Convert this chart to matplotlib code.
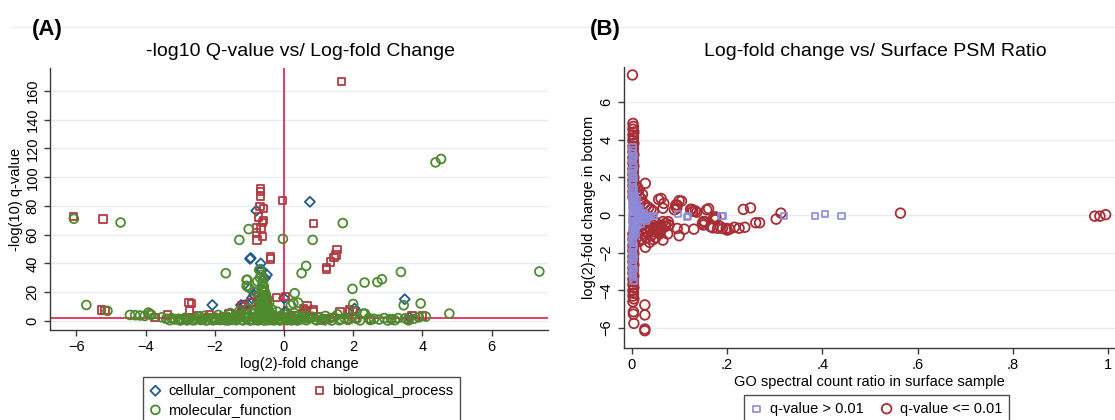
import matplotlib
matplotlib.use("Agg")
import matplotlib.pyplot as plt
from matplotlib.lines import Line2D

plt.rcParams['font.family'] = ['Liberation Sans', 'DejaVu Sans']

# ---------------- Panel A data: (log2 fold change, -log10 q) ----------------
cc_x = [0.75, -0.80, -0.98, -0.96, -0.67, -0.70, -0.49, -0.55, -2.07, 0.00, 3.49, 0.06,
        -1.24, -0.95, -1.18, -0.93, -0.86, -0.98, -1.12, -0.40, -1.50, 0.03, 2.04, 3.62,
        -0.70, -2.80, 1.20, 0.40, -0.64]
cc_y = [82.9, 76.7, 43.2, 43.8, 40.0, 35.5, 32.1, 29.7, 11.1, 15.8, 15.1, 6.3,
        11.1, 12.3, 10.7, 15.8, 18.0, 22.5, 11.0, 3.0, 1.0, 6.5, 8.6, 2.6,
        6.0, 0.8, 0.8, 1.0, 35.5]

bp_x = [1.67, -6.09, -5.23, -0.67, -0.67, -0.68, -0.05, -0.69, -0.60, -0.73, -0.60, -0.62,
        0.85, -0.80, -0.66, -0.80, -0.62, -0.78, -0.39, -0.39, 1.53, 1.50, 1.45, 1.35,
        1.23, 1.23, -5.27, -5.17, -3.73, -3.37, -3.00, -2.80, -2.73, -2.74, -2.68, -2.50,
        -2.40, -2.15, -2.00, -1.85, -1.75, -1.61, -1.50, -1.40, -1.30, -1.22, -1.22, -1.15,
        -1.05, -0.95, -0.90, -0.85, -0.80, -0.77, -0.65, -0.62, -0.60, -0.56, -0.55, -0.50,
        -0.45, -0.42, -0.35, -0.30, -0.21, -0.20, 0.05, 0.10, 0.30, 0.40, 0.54, 0.56,
        0.63, 0.67, 0.86, 0.85, 1.00, 1.20, 1.40, 1.62, 1.85, 1.90, 1.90, 2.05,
        2.00, 2.50, 3.10, 3.60, 3.70, 4.00, -3.20, -2.20, -0.70, -0.48, 0.20, 0.75]
bp_y = [166.8, 72.7, 70.9, 92.0, 90.0, 86.6, 84.0, 79.6, 78.4, 72.3, 69.7, 68.5,
        67.6, 64.6, 64.6, 61.1, 58.8, 56.4, 44.4, 43.2, 49.5, 45.8, 44.0, 41.1,
        37.0, 35.8, 7.7, 7.2, 2.5, 4.2, 1.0, 2.0, 7.4, 12.8, 12.0, 3.5,
        1.2, 4.2, 2.0, 1.0, 3.0, 4.9, 2.0, 1.2, 3.5, 10.5, 7.7, 2.5,
        5.5, 12.8, 3.0, 8.0, 1.5, 16.9, 12.3, 18.1, 22.0, 18.0, 6.0, 12.0,
        9.5, 2.5, 4.5, 1.2, 16.5, 3.0, 16.9, 2.0, 1.0, 3.5, 5.1, 8.6,
        7.0, 10.9, 7.7, 6.5, 3.0, 1.5, 2.5, 6.5, 1.0, 6.5, 7.5, 1.5,
        7.0, 1.2, 1.8, 1.2, 4.0, 3.5, 1.5, 2.2, 9.0, 14.0, 4.0, 2.5]

mf_x = [-6.07, -4.72, -1.02, -1.29, -0.03, 0.83, 1.70, 4.38, 4.54, 0.64, 0.51, -1.68,
        3.38, 7.38, 2.83, 2.70, -1.06, -0.69, -5.71, -5.10, 1.98, 2.33, 0.31, 2.00,
        3.46, 3.95, 4.78, 2.34, 0.20, 0.27, 0.41, 2.29,
        -4.45, -4.30, -4.16, -4.02, -3.92, -3.87, -3.83, -3.53, -3.40, -3.25, -3.15, -3.05,
        -2.95, -2.85, -2.75, -2.65, -2.55, -2.45, -2.35, -2.30, -2.20, -2.10, -2.00, -1.95,
        -1.90, -1.80, -1.75, -1.70, -1.65, -1.60, -1.55, -1.50, -1.45, -1.40, -1.35, -1.30,
        -1.25, -1.20, -1.15, -1.10, -1.05, -1.00, -0.95, -0.90, -0.85, -0.80, -0.78, -0.75,
        -0.72, -0.70, -0.68, -0.66, -0.64, -0.62, -0.60, -0.58, -0.56, -0.55, -0.54, -0.52,
        -0.50, -0.48, -0.47, -0.45, -0.43, -0.40, -0.38, -0.35, -0.32, -0.30, -0.25, -0.20,
        -0.15, -0.10, -0.05, 0.00, 0.05, 0.10, 0.15, 0.20, 0.25, 0.30, 0.35, 0.40,
        0.45, 0.50, 0.55, 0.60, 0.70, 0.80, 0.90, 1.00, 1.10, 1.20, 1.30, 1.45,
        1.55, 1.65, 1.75, 1.85, 1.95, 2.10, 2.45, 2.60, 2.75, 2.90, 3.10, 3.30,
        3.50, 3.75, 3.90, 4.10,
        -0.71, -0.66, -0.69, -0.60, -0.62, -0.58, -0.65, -0.61, -0.84, -0.55, -0.70, -0.50,
        -0.63, -0.57, -0.52, -0.77, -1.08, -1.08, -1.03,
        -3.30, -3.00, -2.80, -2.60, -2.40, -2.25, -2.05, -1.85, -1.62, -1.38, -1.18, -0.98,
        -0.88, -0.74, -0.57, -0.46, -0.36, -0.28, -0.12, 0.08, 0.22, 0.38, 0.65, 0.95,
        1.15, 1.38, 1.60, 2.20, 2.50, 3.00, 3.20, 3.60, -0.67, -0.59, -0.53, -0.64, -0.49]
mf_y = [71.1, 68.5, 63.9, 56.4, 57.1, 56.4, 68.1, 110.3, 112.7, 38.3, 33.2, 33.2,
        34.1, 34.4, 29.0, 27.0, 28.6, 35.4, 11.1, 7.0, 22.3, 26.7, 19.3, 11.8,
        10.9, 12.2, 5.1, 5.1, 11.0, 12.3, 12.7, 5.1,
        4.2, 4.0, 3.8, 3.5, 5.8, 4.9, 4.2, 2.5, 1.5, 2.0, 1.0, 1.5,
        0.8, 2.2, 1.2, 0.6, 1.8, 2.8, 1.0, 3.5, 0.6, 1.5, 2.5, 0.8,
        4.2, 1.2, 2.0, 0.5, 3.0, 1.5, 5.5, 0.9, 2.4, 4.0, 1.3, 6.5,
        2.8, 0.7, 4.8, 1.8, 8.5, 3.2, 1.0, 5.8, 2.2, 10.5, 0.6, 4.5,
        7.5, 1.5, 12.5, 3.0, 9.0, 5.5, 15.0, 2.0, 7.0, 11.5, 4.0, 18.0,
        1.0, 6.0, 9.5, 3.0, 13.0, 5.0, 2.0, 8.0, 1.2, 4.0, 2.5, 6.5,
        1.5, 3.5, 0.8, 2.5, 4.5, 1.2, 3.0, 0.7, 2.0, 5.5, 1.5, 3.5,
        0.9, 2.5, 1.3, 4.0, 1.8, 3.0, 1.0, 2.2, 0.8, 3.5, 1.5, 2.5,
        4.5, 1.2, 2.0, 0.7, 3.0, 1.5, 2.0, 1.5, 1.0, 2.0, 1.2, 2.0,
        1.8, 1.5, 2.5, 3.0,
        35.5, 32.0, 30.0, 28.6, 26.0, 24.0, 22.0, 21.4, 20.4, 20.0, 18.0, 16.0,
        14.0, 12.0, 10.0, 27.6, 28.6, 24.4, 23.5,
        0.5, 0.3, 0.5, 0.4, 0.6, 0.3, 0.4, 0.6, 0.3, 0.5, 0.4, 0.3,
        0.6, 0.4, 0.3, 0.5, 0.6, 0.4, 0.3, 0.5, 0.4, 0.3, 0.5, 0.4,
        0.6, 0.3, 0.5, 0.4, 0.6, 0.3, 0.5, 0.4, 3.5, 6.5, 8.0, 9.5, 5.0]

# ---------------- Panel B data: (surface ratio, log2 fold change) ----------------
ns_x = [0.001, 0.002, 0.001, 0.003, 0.002, 0.001, 0.002, 0.003, 0.001, 0.002, 0.001, 0.003,
        0.002, 0.001, 0.002, 0.003, 0.001, 0.002, 0.001, 0.003, 0.002, 0.001, 0.002, 0.003,
        0.001, 0.002, 0.001, 0.003, 0.002, 0.001, 0.002, 0.003, 0.001, 0.002, 0.001, 0.003,
        0.002, 0.001, 0.002, 0.003, 0.001, 0.002, 0.001, 0.003, 0.002, 0.001, 0.002, 0.003,
        0.006, 0.010, 0.015, 0.020, 0.025, 0.030, 0.008, 0.012, 0.018, 0.035, 0.040, 0.005,
        0.005, 0.009, 0.014, 0.022, 0.028, 0.007, 0.011, 0.016, 0.006, 0.009, 0.013, 0.024,
        0.032, 0.007, 0.010, 0.005, 0.008,
        0.016, 0.019, 0.047, 0.097, 0.115, 0.118, 0.188, 0.190, 0.320, 0.384, 0.405, 0.440]
ns_y = [3.6, 3.45, 3.3, 3.15, 3.0, 2.85, 2.7, 2.55, 2.4, 2.25, 2.1, 1.95,
        1.8, 1.65, 1.5, 1.35, 1.2, 1.05, 0.9, 0.75, 0.6, 0.45, 0.3, 0.15,
        0.0, -0.15, -0.3, -0.45, -0.6, -0.75, -0.9, -1.05, -1.2, -1.35, -1.5, -1.65,
        -1.8, -1.95, -2.1, -2.25, -2.4, -2.55, -2.7, -2.85, -3.0, -3.15, -3.3, -3.5,
        0.2, 0.1, -0.1, 0.05, -0.2, -0.3, -0.4, 0.35, -0.45, -0.1, -0.05, 0.5,
        -0.6, 0.25, -0.25, -0.15, 0.0, 0.65, 0.45, 0.3, -0.8, -0.65, -0.5, 0.1,
        -0.2, 1.0, 0.8, -1.1, -1.0,
        0.05, 0.0, -0.05, 0.05, -0.09, -0.07, -0.04, -0.07, -0.07, -0.07, 0.04, -0.05]

sig_x = [0.001,
         0.002, 0.003, 0.002, 0.004, 0.002, 0.003, 0.002, 0.004, 0.002, 0.003, 0.002, 0.004,
         0.002, 0.003, 0.002, 0.004, 0.002, 0.003, 0.002, 0.004, 0.002, 0.003, 0.002, 0.004,
         0.002, 0.003, 0.002, 0.004,
         0.008, 0.012, 0.010, 0.015, 0.020, 0.018, 0.025, 0.028, 0.030, 0.035, 0.014, 0.022,
         0.006, 0.040, 0.045,
         0.005, 0.008, 0.010, 0.012, 0.015, 0.018, 0.020, 0.022, 0.025, 0.028, 0.030, 0.033,
         0.035, 0.038, 0.040, 0.042, 0.045, 0.048, 0.050, 0.052, 0.055, 0.058, 0.060, 0.062,
         0.010, 0.015, 0.020, 0.006, 0.030, 0.045, 0.008, 0.012, 0.020, 0.028, 0.065, 0.070,
         0.075, 0.065, 0.099, 0.028, 0.037, 0.054, 0.060, 0.050,
         0.002, 0.003, 0.002, 0.004, 0.002, 0.003, 0.002, 0.004, 0.002, 0.003, 0.002, 0.004,
         0.002, 0.003, 0.002, 0.004, 0.002, 0.003, 0.002, 0.004, 0.002, 0.003, 0.002, 0.004,
         0.002,
         0.027, 0.003, 0.003, 0.027, 0.004, 0.027, 0.027,
         0.056, 0.061, 0.067, 0.065, 0.095, 0.104, 0.126, 0.128, 0.136, 0.161, 0.176, 0.176,
         0.234, 0.249, 0.268, 0.303, 0.313, 0.564, 0.972, 0.983, 0.995,
         0.095, 0.110, 0.130, 0.150, 0.198, 0.205, 0.215, 0.225, 0.237, 0.200, 0.180, 0.170,
         0.150, 0.153, 0.094, 0.076, 0.070, 0.092, 0.099, 0.089, 0.157, 0.172, 0.175,
         0.071, 0.078, 0.148, 0.165, 0.185, 0.190, 0.260, 0.123, 0.133]
sig_y = [7.43,
         4.86, 4.70, 4.55, 4.40, 4.25, 4.10, 3.95, 3.80, 3.65, 3.50, 3.35, 3.20,
         3.05, 2.90, 2.75, 2.60, 2.45, 2.30, 2.15, 2.00, 1.85, 1.70, 1.55, 1.40,
         1.25, 1.10, 0.95, 0.80,
         1.60, 1.45, 1.20, 1.00, 0.85, 0.70, 0.60, 1.68, 0.50, 0.40, 1.30, 1.10,
         0.90, 0.30, 0.20,
         -0.30, -0.50, -0.70, -0.90, -0.40, -0.60, -0.80, -1.00, -0.50, -0.70, -0.90, -0.40,
         -0.60, -0.80, -1.10, -0.50, -0.70, -0.90, -0.40, -0.60, -0.80, -1.00, -0.55, -0.75,
         -1.20, -1.40, -1.30, -1.50, -1.20, -1.30, -0.20, -0.30, -0.25, -0.30, -0.35, -0.60,
         -1.00, -1.33, -1.10, -1.71, -1.45, -0.70, -0.90, -1.20,
         -1.00, -1.15, -1.30, -1.45, -1.60, -1.75, -1.90, -2.05, -2.20, -2.35, -2.50, -2.65,
         -2.80, -2.95, -3.10, -3.25, -3.40, -3.55, -3.70, -3.85, -4.00, -4.15, -4.30, -4.45,
         -4.60,
         -4.77, -5.13, -5.26, -5.30, -5.75, -6.05, -6.14,
         0.83, 0.88, 0.62, 0.36, 0.53, 0.74, 0.30, 0.20, 0.15, 0.34, -0.10, -0.20,
         0.30, 0.38, -0.41, -0.22, 0.10, 0.10, -0.06, -0.06, 0.02,
         -0.71, -0.75, -0.75, -0.53, -0.71, -0.75, -0.65, -0.70, -0.65, -0.80, -0.70, -0.68,
         -0.35, -0.35, 0.35, -0.35, -0.60, 0.53, 0.76, 0.28, 0.28, -0.12, -0.25,
         -0.44, -0.53, -0.44, -0.62, -0.60, -0.72, -0.41, 0.30, 0.22]

# ---------------- styles ----------------
C_CC = '#1f5a8c'
C_BP = '#b23a40'
C_MF = '#4e8a2e'
C_NS = '#8e8ad8'
C_SIG = '#a82c34'
C_REF = '#e8194d'
C_GRID = '#e4edf0'
C_AX = '#3a3a3a'

fig = plt.figure(figsize=(11.15, 4.2), dpi=100)

# faint frame line at top
fig.add_artist(Line2D([0.01, 1.0], [1 - 27 / 420, 1 - 27 / 420], color='#ececec', lw=0.8))


def style_axes(ax):
    for s in ('top', 'right'):
        ax.spines[s].set_visible(False)
    for s in ('left', 'bottom'):
        ax.spines[s].set_color(C_AX)
        ax.spines[s].set_linewidth(1.0)
    ax.tick_params(axis='both', direction='out', length=4, width=1.0, color=C_AX,
                   labelsize=10.5, labelcolor='black')
    ax.tick_params(axis='y', labelrotation=90)
    ax.grid(axis='y', color=C_GRID, lw=1.0, zorder=0)
    ax.set_axisbelow(True)


# ---------------- Panel A ----------------
axA = fig.add_axes([50 / 1115, 1 - 330 / 420, 498 / 1115, (330 - 68) / 420])
axA.axhline(2, color=C_REF, lw=1.2, zorder=1)
axA.axvline(0, color=C_REF, lw=1.2, zorder=1)
hA1 = axA.scatter(cc_x, cc_y, marker='D', s=26, facecolors='none', edgecolors=C_CC, linewidths=1.3, zorder=3)
hA2 = axA.scatter(bp_x, bp_y, marker='s', s=28, facecolors='none', edgecolors=C_BP, linewidths=1.3, zorder=4)
hA3 = axA.scatter(mf_x, mf_y, marker='o', s=40, facecolors='none', edgecolors=C_MF, linewidths=1.3, zorder=5)
axA.set_xlim(-6.76, 7.63)
axA.set_ylim(-6.3, 176)
axA.set_xticks([-6, -4, -2, 0, 2, 4, 6])
axA.set_yticks([0, 20, 40, 60, 80, 100, 120, 140, 160])
style_axes(axA)
for lab in axA.get_yticklabels():
    lab.set_va('center')
axA.set_xlabel('log(2)-fold change', fontsize=10.5, labelpad=2)
axA.set_ylabel('-log(10) q-value', fontsize=10.5, labelpad=2)
fig.text(300 / 1115, 1 - 52 / 420, '-log10 Q-value vs/ Log-fold Change', ha='center', va='center', fontsize=14)
fig.text(32 / 1115, 1 - 30 / 420, '(A)', ha='left', va='center', fontsize=16, fontweight='bold')

legA = fig.legend([hA1, hA3, hA2], ['cellular_component', 'molecular_function', 'biological_process'],
                  loc='upper left', bbox_to_anchor=(143 / 1115, 1 - 377 / 420), ncol=2,
                  fontsize=10.5, frameon=True, fancybox=False, edgecolor='#222222',
                  handlelength=0.8, handletextpad=0.5, columnspacing=1.2, labelspacing=0.35,
                  borderpad=0.45, borderaxespad=0, scatterpoints=1)
legA.get_frame().set_linewidth(1.0)

# ---------------- Panel B ----------------
axB = fig.add_axes([623.6 / 1115, 1 - 347.7 / 420, 491.4 / 1115, (347.7 - 66.7) / 420])
hB2 = axB.scatter(sig_x, sig_y, marker='o', s=48, facecolors='none', edgecolors=C_SIG, linewidths=1.3, zorder=3)
hB1 = axB.scatter(ns_x, ns_y, marker='s', s=20, facecolors='none', edgecolors=C_NS, linewidths=1.2, zorder=4)
axB.set_xlim(-0.0176, 1.0147)
axB.set_ylim(-7.04, 7.87)
axB.set_xticks([0, 0.2, 0.4, 0.6, 0.8, 1.0])
axB.set_xticklabels(['0', '.2', '.4', '.6', '.8', '1'])
axB.set_yticks([-6, -4, -2, 0, 2, 4, 6])
style_axes(axB)
for lab in axB.get_yticklabels():
    lab.set_va('center')
axB.set_xlabel('GO spectral count ratio in surface sample', fontsize=10.5, labelpad=2)
axB.set_ylabel('log(2)-fold change in bottom', fontsize=10.5, labelpad=2)
fig.text(875 / 1115, 1 - 52 / 420, 'Log-fold change vs/ Surface PSM Ratio', ha='center', va='center', fontsize=14)
fig.text(590 / 1115, 1 - 30 / 420, '(B)', ha='left', va='center', fontsize=16, fontweight='bold')

legB = fig.legend([hB1, hB2], ['q-value > 0.01', 'q-value <= 0.01'],
                  loc='upper left', bbox_to_anchor=(744 / 1115, 1 - 395 / 420), ncol=2,
                  fontsize=10.5, frameon=True, fancybox=False, edgecolor='#222222',
                  handlelength=0.8, handletextpad=0.5, columnspacing=1.2, labelspacing=0.35,
                  borderpad=0.45, borderaxespad=0, scatterpoints=1)
legB.get_frame().set_linewidth(1.0)

fig.savefig('out.png', dpi=100)
